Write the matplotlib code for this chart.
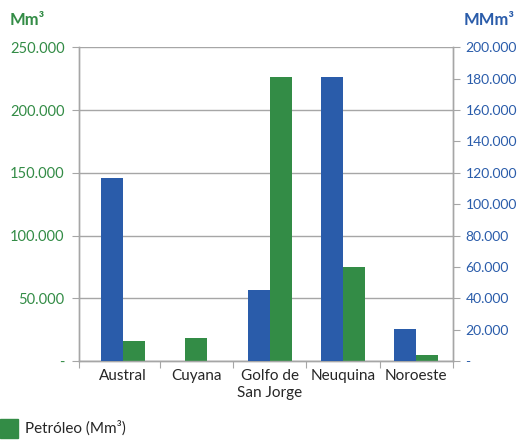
import numpy as np
import matplotlib.pyplot as plt
from matplotlib.patches import Rectangle
from matplotlib.ticker import FuncFormatter

plt.rcParams['font.family'] = ['Lato', 'DejaVu Sans']

cuencas = ['Austral', 'Cuyana', 'Golfo de\nSan Jorge', 'Neuquina', 'Noroeste']
gas = [116700, 0, 45300, 181100, 20400]          # MMm3, right axis
petroleo = [15900, 18300, 226300, 74900, 4800]   # Mm3, left axis

blue = '#2a5caa'
green = '#338c46'
grey = '#a6a6a6'


def miles(v, pos):
    if v == 0:
        return '-'
    return '{:,.0f}'.format(v).replace(',', '.')


fig = plt.figure(figsize=(5.2, 4.4), dpi=100)
ax = fig.add_axes([0.152, 0.1795, 0.719, 0.713])
ax2 = ax.twinx()

x = np.arange(len(cuencas))
w = 0.3
for i in range(len(cuencas)):
    if gas[i] > 0:
        ax2.bar(x[i] - w / 2, gas[i], w, color=blue, zorder=3)
        ax.bar(x[i] + w / 2, petroleo[i], w, color=green, zorder=3)
    else:
        # no gas bar: oil bar sits in the middle of the category
        ax.bar(x[i], petroleo[i], w, color=green, zorder=3)

ax.set_xlim(-0.6, 4.5)
ax.set_ylim(0, 250000)
ax2.set_ylim(0, 200000)
ax.set_yticks(np.arange(0, 250001, 50000))
ax2.set_yticks(np.arange(0, 200001, 20000))
ax.yaxis.set_major_formatter(FuncFormatter(miles))
ax2.yaxis.set_major_formatter(FuncFormatter(miles))

ax.grid(axis='y', color=grey, lw=1, zorder=0)
ax.set_axisbelow(True)

# category separators on the x axis, labels in the middle
ax.set_xticks([-0.6, 0.5, 1.5, 2.5, 3.5, 4.5])
ax.set_xticklabels([])
ax.set_xticks(x, minor=True)
ax.set_xticklabels(cuencas, minor=True, fontsize=11, color='#262626')
ax.tick_params(axis='x', which='minor', length=0, pad=6)
ax.tick_params(axis='x', which='major', length=5, color=grey, direction='out')

ax.tick_params(axis='y', colors=green, labelsize=10.5, length=5, pad=5.5)
ax.tick_params(axis='y', color=grey)
ax2.tick_params(axis='y', labelcolor=blue, labelsize=10, length=5, color=grey, pad=4)

for a in (ax, ax2):
    a.spines['top'].set_visible(False)
    for s in ('left', 'right', 'bottom'):
        a.spines[s].set_color(grey)
        a.spines[s].set_linewidth(1)

fig.text(0.018, 0.955, 'Mm³', color=green, fontsize=12, fontweight='bold', va='center')
fig.text(0.99, 0.955, 'MMm³', color=blue, fontsize=12, fontweight='bold', va='center', ha='right')

# legend
fig.patches.append(Rectangle((0.0, 0.005), 0.035, 0.043, transform=fig.transFigure,
                             color=green, figure=fig))
fig.text(0.048, 0.028, 'Petróleo (Mm³)', fontsize=11, color='#262626', va='center')

fig.savefig('out.png', dpi=100)
